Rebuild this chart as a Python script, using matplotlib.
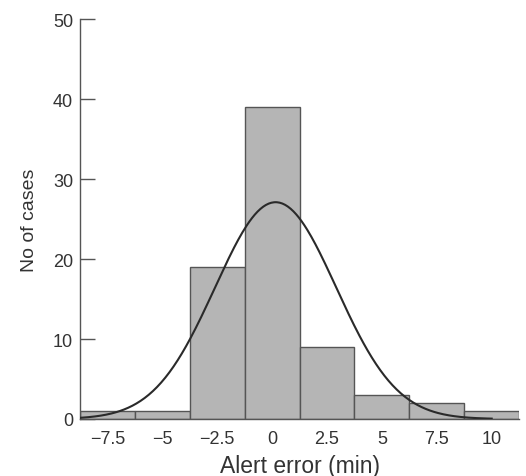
import matplotlib
matplotlib.use("Agg")
import matplotlib.pyplot as plt
import numpy as np

plt.rcParams['font.family'] = ['Liberation Sans', 'DejaVu Sans']

# histogram of alert error (bin centres, counts)
bin_centres = [-7.5, -5, -2.5, 0, 2.5, 5, 7.5, 10]
counts = [1, 1, 19, 39, 9, 3, 2, 1]
bin_width = 2.5
tick_labels = ['\u22127.5', '\u22125', '\u22122.5', '0', '2.5', '5', '7.5', '10']

# fitted normal curve
fit_mean = 0.16
fit_sd = 2.76
n_cases = sum(counts)

fig = plt.figure(figsize=(5.26, 4.77), dpi=100)
ax = fig.add_axes([0.152, 0.1195, 0.835, 0.8385])

ax.bar(bin_centres, counts, width=bin_width, color='#b5b5b5',
       edgecolor='#555555', linewidth=1.0, zorder=2)

xs = np.linspace(-8.75, 10.0, 300)
ys = n_cases * bin_width / (fit_sd * np.sqrt(2 * np.pi)) * np.exp(-(xs - fit_mean) ** 2 / (2 * fit_sd ** 2))
ax.plot(xs, ys, color='#2a2a2a', linewidth=1.5, zorder=3)

ax.set_xlim(-8.75, 11.25)
ax.set_ylim(0, 50)
ax.set_xticks(bin_centres)
ax.set_xticklabels(tick_labels)
ax.set_yticks([0, 10, 20, 30, 40, 50])

for s in ['top', 'right']:
    ax.spines[s].set_visible(False)
for s in ['left', 'bottom']:
    ax.spines[s].set_color('#555555')
    ax.spines[s].set_linewidth(1.0)

ax.tick_params(axis='y', direction='in', length=11, width=1.0, color='#555555',
               labelsize=13, labelcolor='#333333', pad=5)
ax.tick_params(axis='x', length=0, labelsize=13, labelcolor='#333333', pad=8)

ax.set_xlabel('Alert error (min)', fontsize=16.5, color='#333333', labelpad=5)
ax.set_ylabel('No of cases', fontsize=14, color='#333333', labelpad=11)

fig.savefig('out.png', dpi=100)
